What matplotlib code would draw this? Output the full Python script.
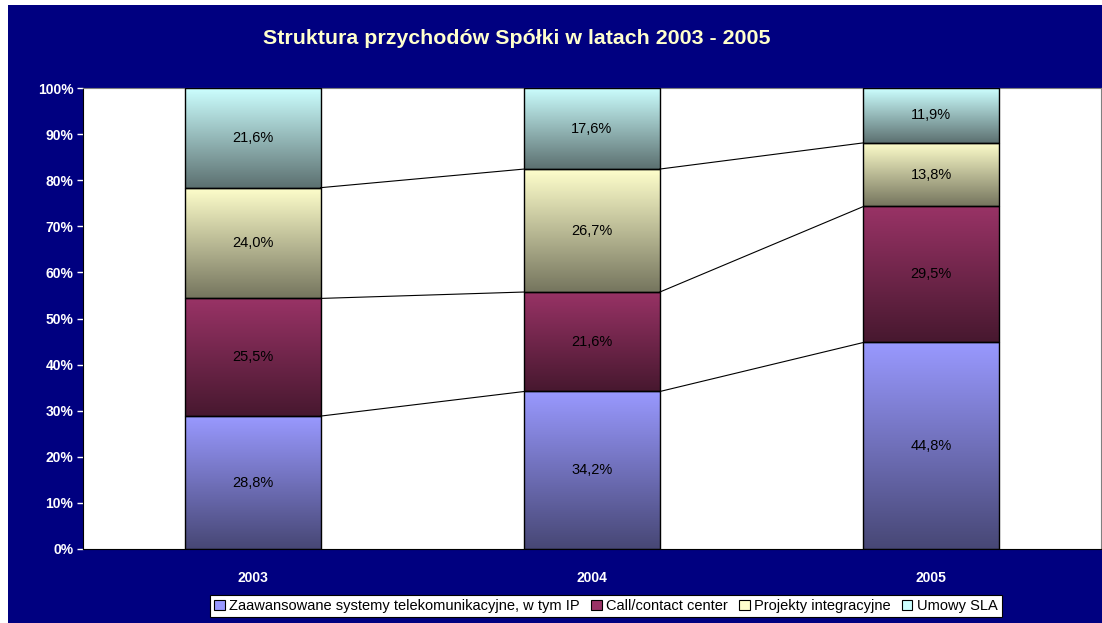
import numpy as np
import matplotlib
matplotlib.use("Agg")
from matplotlib import pyplot as plt
from matplotlib.patches import Rectangle
from matplotlib.colors import LinearSegmentedColormap

years = ["2003", "2004", "2005"]
series = ["Zaawansowane systemy telekomunikacyjne, w tym IP",
          "Call/contact center", "Projekty integracyjne", "Umowy SLA"]
zaawansowane = [28.8, 34.2, 44.8]
call_center = [25.5, 21.6, 29.5]
projekty = [24.0, 26.7, 13.8]
umowy_sla = [21.6, 17.6, 11.9]
labels = [["28,8%", "34,2%", "44,8%"],
          ["25,5%", "21,6%", "29,5%"],
          ["24,0%", "26,7%", "13,8%"],
          ["21,6%", "17,6%", "11,9%"]]

# gradient colours (top, bottom) per series
top_cols = ["#9999ff", "#993366", "#ffffcc", "#ccffff"]
bot_cols = ["#474775", "#47182f", "#75755e", "#5c7070"]

plt.rcParams['font.family'] = ['Liberation Sans', 'DejaVu Sans']

navy = "#000080"
fig = plt.figure(figsize=(11.02, 6.23), dpi=100, facecolor="white")
fig.patches.append(Rectangle((8 / 1102, 0), 1, 618 / 623, transform=fig.transFigure,
                             facecolor=navy, edgecolor="none", zorder=-10))
ax = fig.add_axes([83 / 1102, 1 - 549 / 623, 1018 / 1102, 461 / 623])
ax.set_facecolor("white")

data = np.array([zaawansowane, call_center, projekty, umowy_sla])
pct = data / data.sum(axis=0) * 100
x = np.arange(len(years))
width = 0.4

bottoms = np.zeros(len(years))
grad = np.linspace(0, 1, 256).reshape(-1, 1)
for i in range(len(series)):
    bars = ax.bar(x, pct[i], width, bottom=bottoms, facecolor="none",
                  edgecolor="black", linewidth=1.0, zorder=3)
    cmap = LinearSegmentedColormap.from_list("g%d" % i, [bot_cols[i], top_cols[i]])
    for j, b in enumerate(bars):
        im = ax.imshow(grad, cmap=cmap, aspect="auto", origin="lower",
                       extent=[b.get_x(), b.get_x() + b.get_width(),
                               b.get_y(), b.get_y() + b.get_height()], zorder=2)
        im.set_clip_path(b)
        ax.text(x[j], bottoms[j] + pct[i][j] / 2, labels[i][j], ha="center",
                va="center", fontsize=10.5, color="black", zorder=4)
    tops = bottoms + pct[i]
    if i < len(series) - 1:
        for j in range(len(years) - 1):
            ax.plot([x[j] + width / 2, x[j + 1] - width / 2], [tops[j], tops[j + 1]],
                    color="black", linewidth=0.8, zorder=3)
    bottoms = tops

ax.set_xlim(-0.5, 2.5)
ax.set_ylim(0, 100)
ax.set_yticks(np.arange(0, 101, 10))
ax.set_yticklabels(["%d%%" % v for v in range(0, 101, 10)])
ax.set_xticks(x)
ax.set_xticklabels(years)
ax.tick_params(axis="y", colors="white", labelsize=10, length=4, width=1, direction="out", pad=3)
ax.tick_params(axis="x", colors="white", labelsize=10, length=0, pad=16)
for lab in ax.get_xticklabels() + ax.get_yticklabels():
    lab.set_fontweight("bold")
for s in ["top", "right"]:
    ax.spines[s].set_color("#808080")
ax.spines["left"].set_color("black")
ax.spines["bottom"].set_color("black")

fig.text(517 / 1102, 1 - 38 / 623, "Struktura przychodów Spółki w latach 2003 - 2005",
         ha="center", va="center", fontsize=15.4, fontweight="bold", color="#ffffcc")

handles = [Rectangle((0, 0), 1, 1, facecolor=c, edgecolor="black", linewidth=0.8)
           for c in ["#9999ff", "#993366", "#ffffcc", "#ccffff"]]
leg = fig.legend(handles, series, loc="center", bbox_to_anchor=(606 / 1102, 1 - 606 / 623),
                 ncol=4, fontsize=10.5, frameon=True, fancybox=False, framealpha=1,
                 handlelength=0.7, handleheight=0.7, handletextpad=0.3, columnspacing=0.8,
                 borderpad=0.3, borderaxespad=0)
leg.get_frame().set_edgecolor("black")
leg.get_frame().set_linewidth(0.8)

fig.savefig("out.png", dpi=100, facecolor="white")
